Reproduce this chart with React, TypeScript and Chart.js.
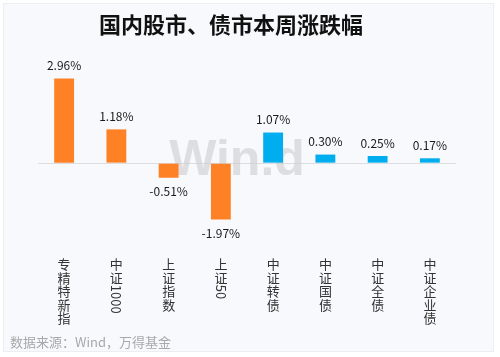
import React, { useEffect, useRef } from "react";
import { Chart, registerables } from "chart.js";

Chart.register(...registerables);

const TITLE = "国内股市、债市本周涨跌幅";
const SOURCE = "数据来源：Wind，万得基金";
const categories = ["专精特新指", "中证1000", "上证指数", "上证50", "中证转债", "中证国债", "中证全债", "中证企业债"];
const values = [2.96, 1.18, -0.51, -1.97, 1.07, 0.3, 0.25, 0.17];
const barColors = ["#ff8125", "#ff8125", "#ff8125", "#ff8125", "#00aeef", "#00aeef", "#00aeef", "#00aeef"];

const FONT = '"Noto Sans CJK SC", "Noto Sans", sans-serif';

const decorPlugin = {
  id: "decor",
  beforeDraw(chart: any) {
    const { ctx, width, height } = chart;
    ctx.save();
    ctx.fillStyle = "#ffffff";
    ctx.fillRect(0, 0, width, height);
    ctx.fillStyle = "#f8f9fc";
    ctx.fillRect(3, 3, 491, 349);
    ctx.strokeStyle = "#eceef2";
    ctx.lineWidth = 1;
    ctx.strokeRect(3.5, 3.5, 490, 348);
    // title
    ctx.fillStyle = "#111111";
    ctx.font = `bold 22px ${FONT}`;
    ctx.textAlign = "center";
    ctx.textBaseline = "middle";
    ctx.fillText(TITLE, 231, 25);
    // source
    ctx.fillStyle = "#a8a8a8";
    ctx.font = `13px ${FONT}`;
    ctx.textAlign = "left";
    ctx.fillText(SOURCE, 10, 342);
    ctx.restore();
  },
  beforeDatasetsDraw(chart: any) {
    const { ctx } = chart;
    ctx.save();
    ctx.fillStyle = "rgba(200,200,200,0.55)";
    ctx.font = `bold 50px "Liberation Sans", Arial, sans-serif`;
    ctx.textAlign = "center";
    ctx.textBaseline = "middle";
    ctx.fillText("Win.d", 237, 161);
    ctx.restore();
  },
  afterDatasetsDraw(chart: any) {
    const { ctx } = chart;
    const meta = chart.getDatasetMeta(0);
    const xScale = chart.scales.x;
    ctx.save();
    // value labels
    ctx.fillStyle = "#1a1a1a";
    ctx.font = `12px ${FONT}`;
    ctx.textAlign = "center";
    ctx.textBaseline = "middle";
    meta.data.forEach((bar: any, i: number) => {
      const v = values[i];
      const txt = v.toFixed(2) + "%";
      const y = v >= 0 ? bar.y - 13 : bar.y + 14;
      ctx.fillText(txt, bar.x, y);
    });
    // category labels (vertical)
    ctx.fillStyle = "#333333";
    ctx.font = `13px ${FONT}`;
    categories.forEach((cat, i) => {
      const x = xScale.getPixelForValue(i);
      let y = 258;
      const chars = Array.from(cat);
      chars.forEach((ch) => {
        if (/[0-9A-Za-z]/.test(ch)) {
          const w = ctx.measureText(ch).width;
          ctx.save();
          ctx.translate(x, y + w / 2);
          ctx.rotate(Math.PI / 2);
          ctx.textBaseline = "middle";
          ctx.fillText(ch, 0, 0);
          ctx.restore();
          y += w;
        } else {
          ctx.textBaseline = "top";
          ctx.fillText(ch, x, y);
          y += 13.4;
        }
      });
    });
    ctx.restore();
  },
};

export default function App() {
  const ref = useRef<HTMLCanvasElement>(null);
  useEffect(() => {
    document.body.style.margin = "0";
    const chart = new Chart(ref.current!, {
      type: "bar",
      data: {
        labels: categories,
        datasets: [
          {
            data: values,
            backgroundColor: barColors,
            barPercentage: 0.38,
            categoryPercentage: 1,
          },
        ],
      },
      options: {
        animation: false,
        responsive: false,
        layout: { padding: { left: 38, right: 44, top: 63, bottom: 108 } },
        plugins: { legend: { display: false }, tooltip: { enabled: false }, title: { display: false } },
        scales: {
          x: { display: false, grid: { display: false } },
          y: {
            min: -3,
            max: 3.5,
            display: true,
            border: { display: false },
            ticks: { display: false, stepSize: 0.5 },
            grid: {
              drawTicks: false,
              color: (c: any) => (c.tick && c.tick.value === 0 ? "#dcdde0" : "rgba(0,0,0,0)"),
            },
          },
        },
      },
      plugins: [decorPlugin],
    });
    return () => chart.destroy();
  }, []);
  return (
    <div style={{ width: 500, height: 357 }}>
      <canvas ref={ref} width={500} height={357} style={{ display: "block" }} />
    </div>
  );
}
